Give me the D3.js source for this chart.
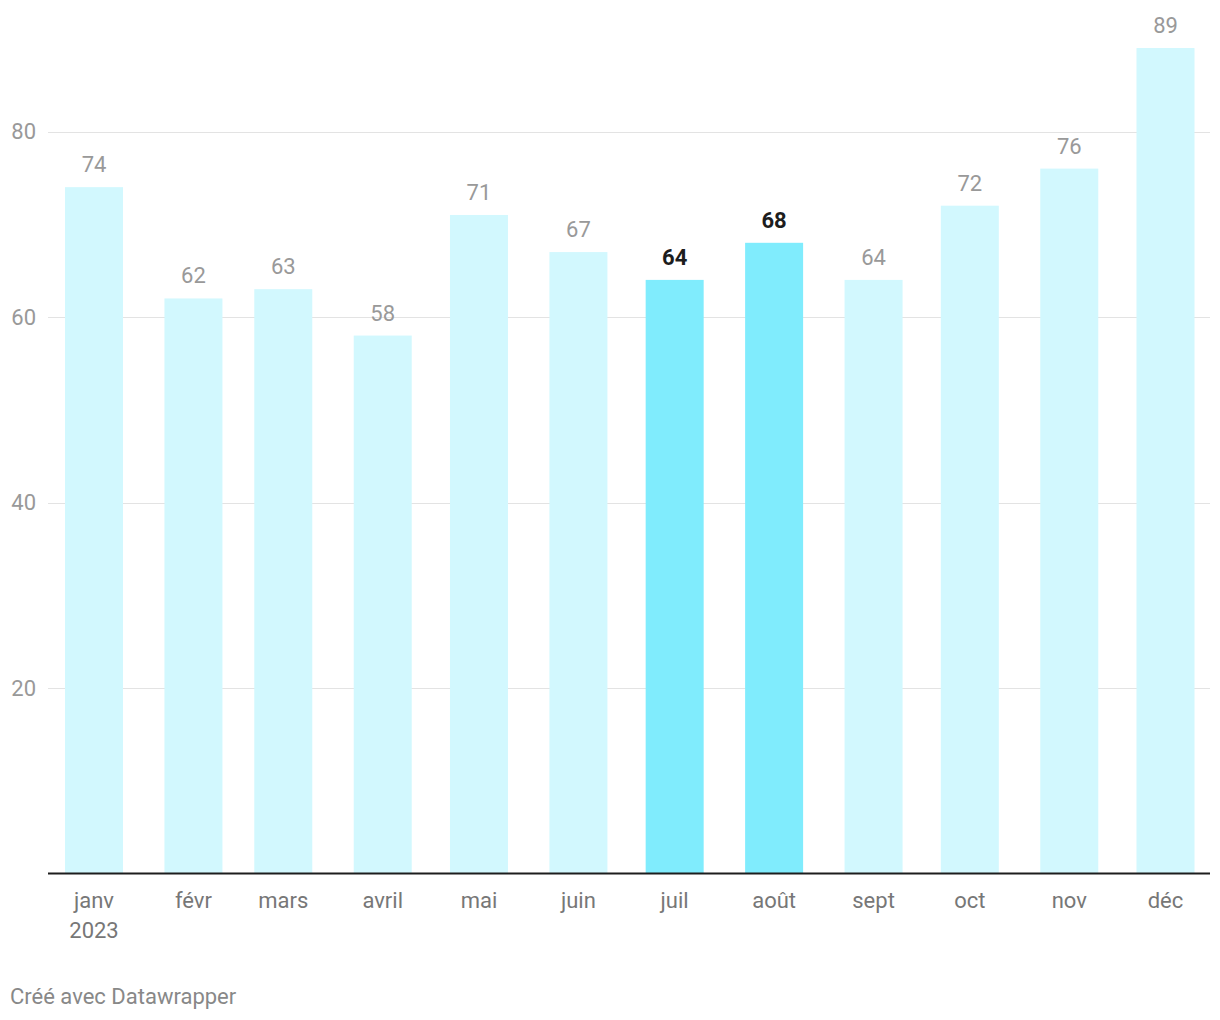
<!DOCTYPE html>
<html>
<head>
<meta charset="utf-8">
<script src="https://cdn.jsdelivr.net/npm/d3@7"></script>
<style>
  body { margin: 0; background: #fff; font-family: Roboto, "Noto Sans", sans-serif; }
</style>
</head>
<body>
<div id="chart"></div>
<script>
// data
var months = ["janv", "févr", "mars", "avril", "mai", "juin", "juil", "août", "sept", "oct", "nov", "déc"];
var values = [74, 62, 63, 58, 71, 67, 64, 68, 64, 72, 76, 89];
var highlighted = ["juil", "août"];
var yTicks = [20, 40, 60, 80];

var svgWidth = 1220;
var svgHeight = 1020;

var svg = d3.select("#chart")
  .append("svg")
  .attr("width", svgWidth)
  .attr("height", svgHeight);

var data = months.map(function(m, i) {
  return { month: m, date: new Date(2023, i, 1), value: values[i] };
});

// time scale: bars sit on the first day of each month
var x = d3.scaleTime()
  .domain([new Date(2023, 0, 1), new Date(2023, 11, 1)])
  .range([94, 1165.5]);

var y = d3.scaleLinear()
  .domain([0, 80])
  .range([873.5, 131.5]);

var barWidth = 58;
var left = 48, right = 1210;

// grid lines
svg.append("g")
  .selectAll("line")
  .data(yTicks)
  .enter()
  .append("line")
  .attr("x1", left)
  .attr("x2", right)
  .attr("y1", d => Math.round(y(d)) + 0.5)
  .attr("y2", d => Math.round(y(d)) + 0.5)
  .attr("stroke", "#e3e3e3")
  .attr("stroke-width", 1);

// y tick labels
svg.append("g")
  .selectAll("text")
  .data(yTicks)
  .enter()
  .append("text")
  .attr("x", 36)
  .attr("y", d => y(d))
  .attr("dy", "0.36em")
  .attr("text-anchor", "end")
  .attr("font-size", 22)
  .attr("fill", "#999")
  .text(d => d);

// bars
svg.append("g")
  .selectAll("rect")
  .data(data)
  .enter()
  .append("rect")
  .attr("x", d => x(d.date) - barWidth / 2)
  .attr("width", barWidth)
  .attr("y", d => y(d.value))
  .attr("height", d => y(0) - y(d.value))
  .attr("fill", d => highlighted.indexOf(d.month) >= 0 ? "#80ecfd" : "#d2f8fe");

// value labels
svg.append("g")
  .selectAll("text")
  .data(data)
  .enter()
  .append("text")
  .attr("x", d => x(d.date))
  .attr("y", d => y(d.value) - 15)
  .attr("text-anchor", "middle")
  .attr("font-size", 22)
  .attr("font-weight", d => highlighted.indexOf(d.month) >= 0 ? "bold" : "normal")
  .attr("fill", d => highlighted.indexOf(d.month) >= 0 ? "#1d1d1d" : "#999")
  .text(d => d.value);

// baseline
svg.append("line")
  .attr("x1", left)
  .attr("x2", right)
  .attr("y1", y(0))
  .attr("y2", y(0))
  .attr("stroke", "#1d1d1d")
  .attr("stroke-width", 2);

// month labels
var xLabels = svg.append("g")
  .selectAll("text")
  .data(data)
  .enter()
  .append("text")
  .attr("x", d => x(d.date))
  .attr("y", 908)
  .attr("text-anchor", "middle")
  .attr("font-size", 22)
  .attr("fill", "#777");

xLabels.append("tspan")
  .attr("x", d => x(d.date))
  .text(d => d.month);

xLabels.filter((d, i) => i === 0)
  .append("tspan")
  .attr("x", d => x(d.date))
  .attr("dy", 30)
  .text("2023");

// credit
svg.append("text")
  .attr("x", 10)
  .attr("y", 1004)
  .attr("font-size", 22)
  .attr("fill", "#888")
  .text("Créé avec Datawrapper");
</script>
</body>
</html>
